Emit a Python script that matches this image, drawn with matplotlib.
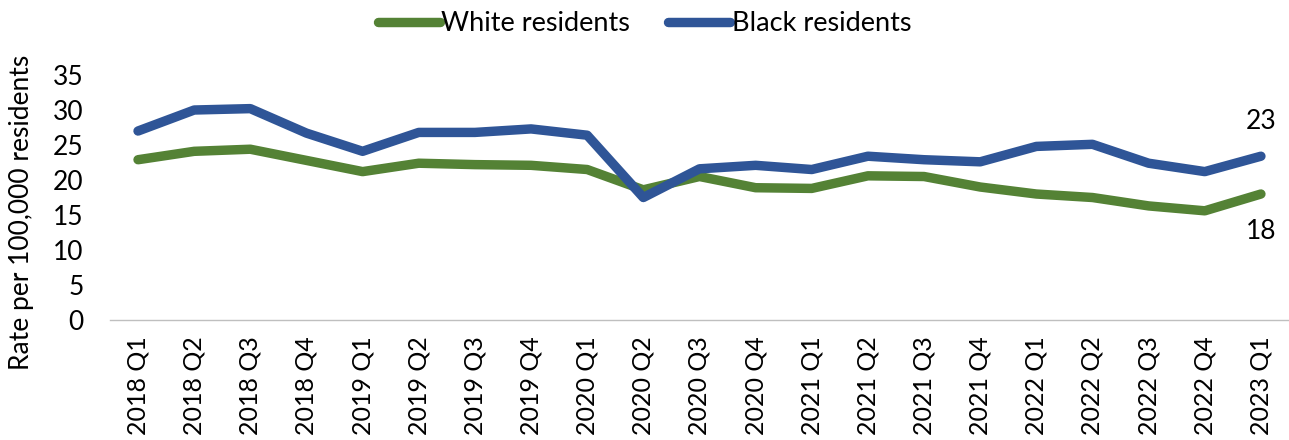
import matplotlib
matplotlib.use("Agg")
import matplotlib.pyplot as plt

plt.rcParams['font.family'] = ['Lato', 'DejaVu Sans']

quarters = ["2018 Q1", "2018 Q2", "2018 Q3", "2018 Q4",
            "2019 Q1", "2019 Q2", "2019 Q3", "2019 Q4",
            "2020 Q1", "2020 Q2", "2020 Q3", "2020 Q4",
            "2021 Q1", "2021 Q2", "2021 Q3", "2021 Q4",
            "2022 Q1", "2022 Q2", "2022 Q3", "2022 Q4",
            "2023 Q1"]
white = [22.9, 24.1, 24.4, 22.8, 21.2, 22.4, 22.2, 22.1, 21.5, 18.6, 20.5,
         18.9, 18.8, 20.6, 20.5, 19.0, 18.0, 17.5, 16.3, 15.6, 18.0]
black = [27.0, 30.0, 30.2, 26.7, 24.1, 26.8, 26.8, 27.3, 26.4, 17.5, 21.6,
         22.1, 21.5, 23.4, 22.9, 22.6, 24.8, 25.1, 22.4, 21.2, 23.4]
yticks = [0, 5, 10, 15, 20, 25, 30, 35]

GREEN = "#548235"
BLUE = "#2F5597"
FS = 19

fig = plt.figure(figsize=(12.89, 4.40), dpi=100)
ax = fig.add_axes([0.0853, 0.2727, 0.9147, 0.5568])

x = list(range(len(quarters)))
ax.plot(x, white, color=GREEN, lw=6.8, solid_capstyle="round",
        solid_joinstyle="round", label="White residents")
ax.plot(x, black, color=BLUE, lw=6.8, solid_capstyle="round",
        solid_joinstyle="round", label="Black residents")

ax.set_xlim(-0.5, 20.5)
ax.set_ylim(0, 35)
ax.set_yticks(yticks)
ax.set_xticks(x)
ax.set_xticklabels(quarters, rotation=90)
ax.tick_params(axis="y", length=0, pad=19, labelsize=FS)
ax.tick_params(axis="x", length=0, pad=12, labelsize=18)
ax.set_ylabel("Rate per 100,000 residents", fontsize=FS)
ax.yaxis.set_label_coords(-0.064, 0.44)

for side in ("top", "right", "left"):
    ax.spines[side].set_visible(False)
ax.spines["bottom"].set_color("#BFBFBF")
ax.spines["bottom"].set_linewidth(1.0)

# end-point value labels
ax.annotate(f"{black[-1]:.0f}", (x[-1], black[-1]), xytext=(0, 25),
            textcoords="offset points", ha="center", va="center", fontsize=FS)
ax.annotate(f"{white[-1]:.0f}", (x[-1], white[-1]), xytext=(0, -27),
            textcoords="offset points", ha="center", va="center", fontsize=FS)

fig.legend(loc="upper center", bbox_to_anchor=(0.5, 1.03), ncol=2,
           frameon=False, fontsize=19.5, handlelength=2.3, handletextpad=0.05,
           columnspacing=1.4)

fig.savefig("out.png", dpi=100)
